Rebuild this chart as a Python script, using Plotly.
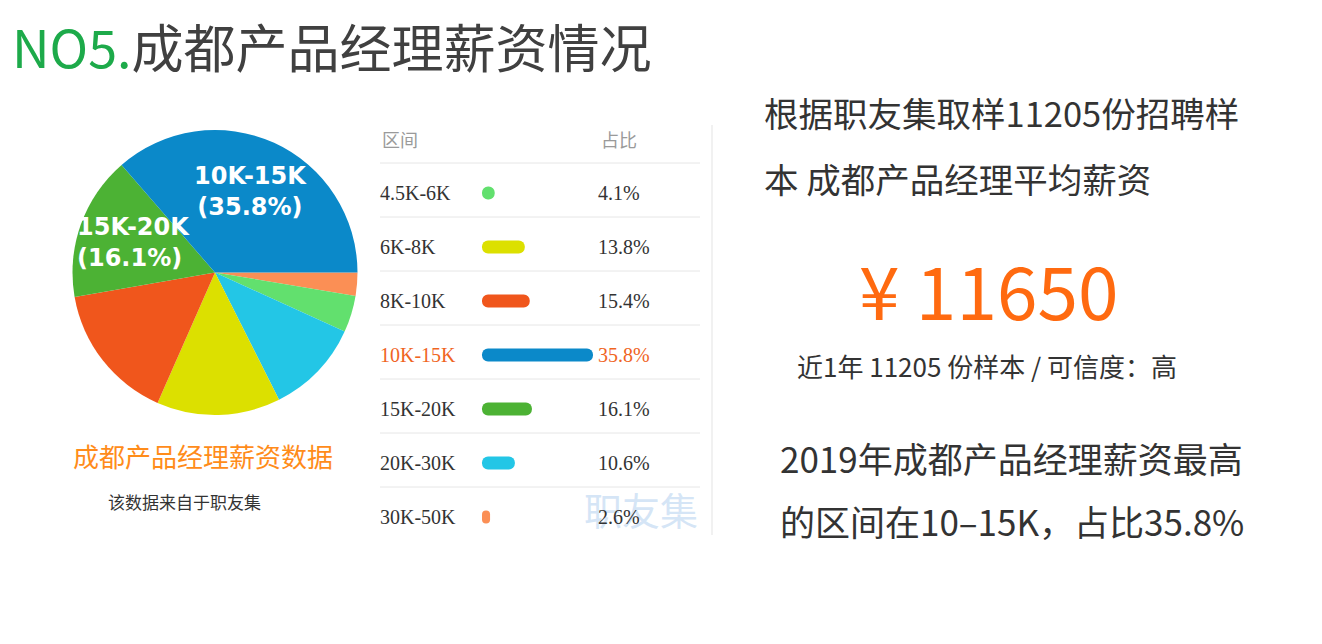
import plotly.graph_objects as go

# ---- data ----
categories = ["4.5K-6K", "6K-8K", "8K-10K", "10K-15K", "15K-20K", "20K-30K", "30K-50K"]
shares = [4.1, 13.8, 15.4, 35.8, 16.1, 10.6, 2.6]
colors = ["#62E06E", "#DCE000", "#F0561C", "#0B89C9", "#4CB234", "#23C6E6", "#FB8F55"]
pie_order = ["30K-50K", "4.5K-6K", "20K-30K", "6K-8K", "8K-10K", "15K-20K", "10K-15K"]
pie_labeled = ["10K-15K", "15K-20K"]
highlight = "10K-15K"
header_left = "区间"
header_right = "占比"
avg_salary = 11650
samples = 11205

# page body has an 8px margin; figure fills the rest of the 1322x644 window
OFF = 8
W, H = 1322 - 2 * OFF, 644 - 2 * OFF
SANS = "Noto Sans CJK SC, Noto Sans, sans-serif"
SERIF = "Liberation Serif, Times New Roman, serif"

def px(x):
    return (x - OFF) / W

def py(y):
    return 1 - (y - OFF) / H

fig = go.Figure()

# ---- pie ----
idx = {c: i for i, c in enumerate(categories)}
fig.add_trace(go.Pie(
    labels=pie_order,
    values=[shares[idx[c]] for c in pie_order],
    marker=dict(colors=[colors[idx[c]] for c in pie_order], line=dict(width=0)),
    sort=False, direction="clockwise", rotation=90,
    textinfo="none", hoverinfo="label+percent",
    domain=dict(x=[px(72), px(358)], y=[py(415), py(130)]),
    showlegend=False,
))

# ---- table bars ----
x_left_px, x_right_px, x_zero_px, px_per_unit = 380, 700, 482, 3.1
row0_px, row_step = 193, 54
ytop_px, ybot_px = 120, 540
rows = list(range(len(categories)))
fig.add_trace(go.Bar(
    x=shares, y=rows, orientation="h", base=0,
    width=13 / row_step,
    marker=dict(color=colors, line=dict(width=0), cornerradius=7),
    xaxis="x", yaxis="y", showlegend=False, hoverinfo="x",
))

fig.update_layout(
    width=W, height=H,
    margin=dict(l=0, r=0, t=0, b=0),
    paper_bgcolor="white", plot_bgcolor="rgba(0,0,0,0)",
    xaxis=dict(domain=[px(x_left_px), px(x_right_px)],
               range=[(x_left_px - x_zero_px) / px_per_unit, (x_right_px - x_zero_px) / px_per_unit],
               visible=False, fixedrange=True),
    yaxis=dict(domain=[py(ybot_px), py(ytop_px)],
               range=[(ybot_px - row0_px) / row_step, (ytop_px - row0_px) / row_step],
               visible=False, fixedrange=True),
)

shapes = []
# row separators
for i in range(len(categories)):
    shapes.append(dict(type="line", xref="paper", yref="y",
                       x0=px(380), x1=px(700), y0=i - 30 / row_step, y1=i - 30 / row_step,
                       line=dict(color="#E6E6E6", width=1)))
# vertical divider
shapes.append(dict(type="line", xref="paper", yref="paper",
                   x0=px(712), x1=px(712), y0=py(535), y1=py(125),
                   line=dict(color="#EDEDED", width=1.5)))
fig.update_layout(shapes=shapes)

ann = []
# title
ann.append(dict(xref="paper", yref="paper", x=px(10), y=py(46), xanchor="left", yanchor="middle",
                text="<span style='color:#1DAA4A'>NO5.</span>成都产品经理薪资情况",
                showarrow=False, font=dict(family=SANS, size=52, color="#404040")))
# pie labels
lab_pos = {"10K-15K": (px(250), py(191), "center", "center"),
           "15K-20K": (px(75), py(242), "left", "left")}
for c in pie_labeled:
    x, y, xa, al = lab_pos[c]
    ann.append(dict(xref="paper", yref="paper", x=x, y=y, xanchor=xa, yanchor="middle", align=al,
                    text=f"<b>{c}<br>({shares[idx[c]]}%)</b>", showarrow=False,
                    font=dict(family="DejaVu Sans, sans-serif", size=24, color="white")))
# pie captions
ann.append(dict(xref="paper", yref="paper", x=px(71), y=py(455), xanchor="left", yanchor="middle",
                text="成都产品经理薪资数据", showarrow=False,
                font=dict(family=SANS, size=26, color="#FF8C1A")))
ann.append(dict(xref="paper", yref="paper", x=px(106), y=py(501), xanchor="left", yanchor="middle",
                text="该数据来自于职友集", showarrow=False,
                font=dict(family=SANS, size=17, color="#333333")))
# watermark
ann.append(dict(xref="paper", yref="paper", x=px(641), y=py(508), xanchor="center", yanchor="middle",
                text="职友集", showarrow=False,
                font=dict(family=SANS, size=38, color="rgba(185,212,240,0.6)")))
# table header
ann.append(dict(xref="paper", yref="y", x=px(380), y=-1, xanchor="left", yanchor="middle",
                text=header_left, showarrow=False, font=dict(family=SANS, size=18, color="#9A9A9A")))
ann.append(dict(xref="paper", yref="y", x=px(599), y=-1, xanchor="left", yanchor="middle",
                text=header_right, showarrow=False, font=dict(family=SANS, size=18, color="#9A9A9A")))
# table rows
for i, c in enumerate(categories):
    col = "#F0651F" if c == highlight else "#333333"
    ann.append(dict(xref="paper", yref="y", x=px(378), y=i, xanchor="left", yanchor="middle",
                    text=c, showarrow=False, font=dict(family=SERIF, size=20, color=col)))
    ann.append(dict(xref="paper", yref="y", x=px(596), y=i, xanchor="left", yanchor="middle",
                    text=f"{shares[i]}%", showarrow=False, font=dict(family=SERIF, size=20, color=col)))
# right text
top_share = max(shares)
lines = [
    (762, 112, f"根据职友集取样{samples}份招聘样", 34.5, "#333333"),
    (762, 178, "本 成都产品经理平均薪资", 34.5, "#333333"),
    (778, 458, "2019年成都产品经理薪资最高", 35, "#333333"),
    (778, 520, f"的区间在10–15K，占比{top_share}%", 35, "#333333"),
]
for x, y, t, s, c in lines:
    ann.append(dict(xref="paper", yref="paper", x=px(x), y=py(y), xanchor="left", yanchor="middle",
                    text=t, showarrow=False, font=dict(family=SANS, size=s, color=c)))
ann.append(dict(xref="paper", yref="paper", x=px(988), y=py(288), xanchor="center", yanchor="middle",
                text=f"¥ {avg_salary}", showarrow=False,
                font=dict(family=SANS, size=73, color="#FF6A10")))
ann.append(dict(xref="paper", yref="paper", x=px(987), y=py(365), xanchor="center", yanchor="middle",
                text=f"近1年 {samples} 份样本 / 可信度：高", showarrow=False,
                font=dict(family=SANS, size=26, color="#333333")))
fig.update_layout(annotations=ann)

fig.write_html("out.html")
